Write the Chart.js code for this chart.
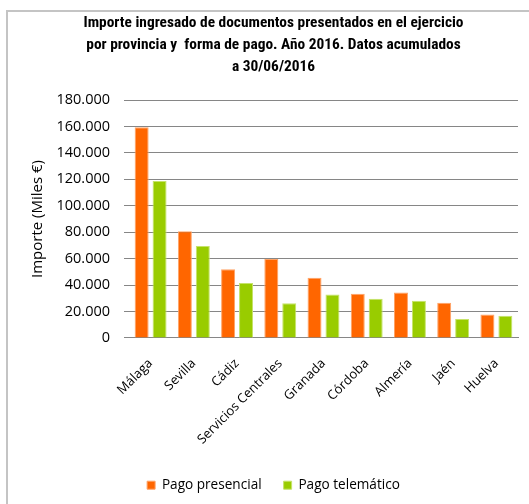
<!DOCTYPE html>
<html>
<head>
<meta charset="utf-8">
<script src="https://cdn.jsdelivr.net/npm/chart.js@4"></script>
<style>
  html, body { margin:0; padding:0; background:#fff; }
  #wrap { position:relative; width:529px; height:504px; overflow:hidden; }
  #frame { position:absolute; left:6px; top:10px; width:600px; height:600px; border-left:2px solid #c4c4c4; border-top:2px solid #c4c4c4; box-sizing:border-box; }
  canvas { position:absolute; left:0; top:0; }
</style>
</head>
<body>
<div id="wrap">
  <div id="frame"></div>
  <canvas id="c" width="529" height="504"></canvas>
</div>
<script>
const categories = ['Málaga','Sevilla','Cádiz','Servicios Centrales','Granada','Córdoba','Almería','Jaén','Huelva'];
const pagoPresencial = [159400, 80800, 51900, 59700, 45600, 33400, 34400, 26600, 17700];
const pagoTelematico = [118800, 69500, 41500, 26300, 32900, 29600, 28100, 14200, 16700];
const yTickLabels = ['0','20.000','40.000','60.000','80.000','100.000','120.000','140.000','160.000','180.000'];
const titleLines = ['Importe ingresado de documentos presentados en el ejercicio','por provincia y  forma de pago. Año 2016. Datos acumulados','a 30/06/2016'];

const FONT = "'Open Sans', 'Noto Sans', sans-serif";

new Chart(document.getElementById('c'), {
  type: 'bar',
  data: {
    labels: categories,
    datasets: [
      { label: 'Pago presencial', data: pagoPresencial, backgroundColor: '#FF6600', borderColor: '#FFA366', borderWidth: 1, categoryPercentage: 0.83, barPercentage: 0.78 },
      { label: 'Pago telemático', data: pagoTelematico, backgroundColor: '#99CC00', borderColor: '#C6E36A', borderWidth: 1, categoryPercentage: 0.83, barPercentage: 0.78 }
    ]
  },
  options: {
    responsive: false,
    animation: false,
    layout: { padding: { left: 29, right: 11, top: 0, bottom: 2 } },
    plugins: {
      title: {
        display: true,
        text: titleLines,
        color: '#000',
        font: { family: "'Liberation Sans Narrow', 'Roboto Condensed', Roboto, sans-serif", size: 15.4, weight: 'bold', lineHeight: 1.43 },
        padding: { top: 12, bottom: 22 }
      },
      legend: {
        position: 'bottom',
        labels: { color: '#000', font: { family: FONT, size: 13.6 }, boxWidth: 8, boxHeight: 8, padding: 22 }
      },
      tooltip: { enabled: false }
    },
    scales: {
      x: {
        afterFit: (s) => { s.height = s.height - 1; },
        grid: { display: false },
        border: { display: true, color: '#868686', width: 1 },
        ticks: { color: '#000', font: { family: FONT, size: 13 }, maxRotation: 45, minRotation: 45, padding: 10 }
      },
      y: {
        min: 0, max: 180000,
        afterFit: (s) => { s.width = 100; },
        grid: { color: '#868686', lineWidth: 1, tickLength: 5, tickColor: '#868686' },
        border: { display: false },
        ticks: { stepSize: 20000, color: '#000', font: { family: FONT, size: 14.5 }, padding: 14,
          callback: (v) => yTickLabels[Math.round(v / 20000)] },
        title: { display: true, text: 'Importe (Miles €)', color: '#000', font: { family: FONT, size: 15 }, padding: 0 }
      }
    }
  }
});
</script>
</body>
</html>
